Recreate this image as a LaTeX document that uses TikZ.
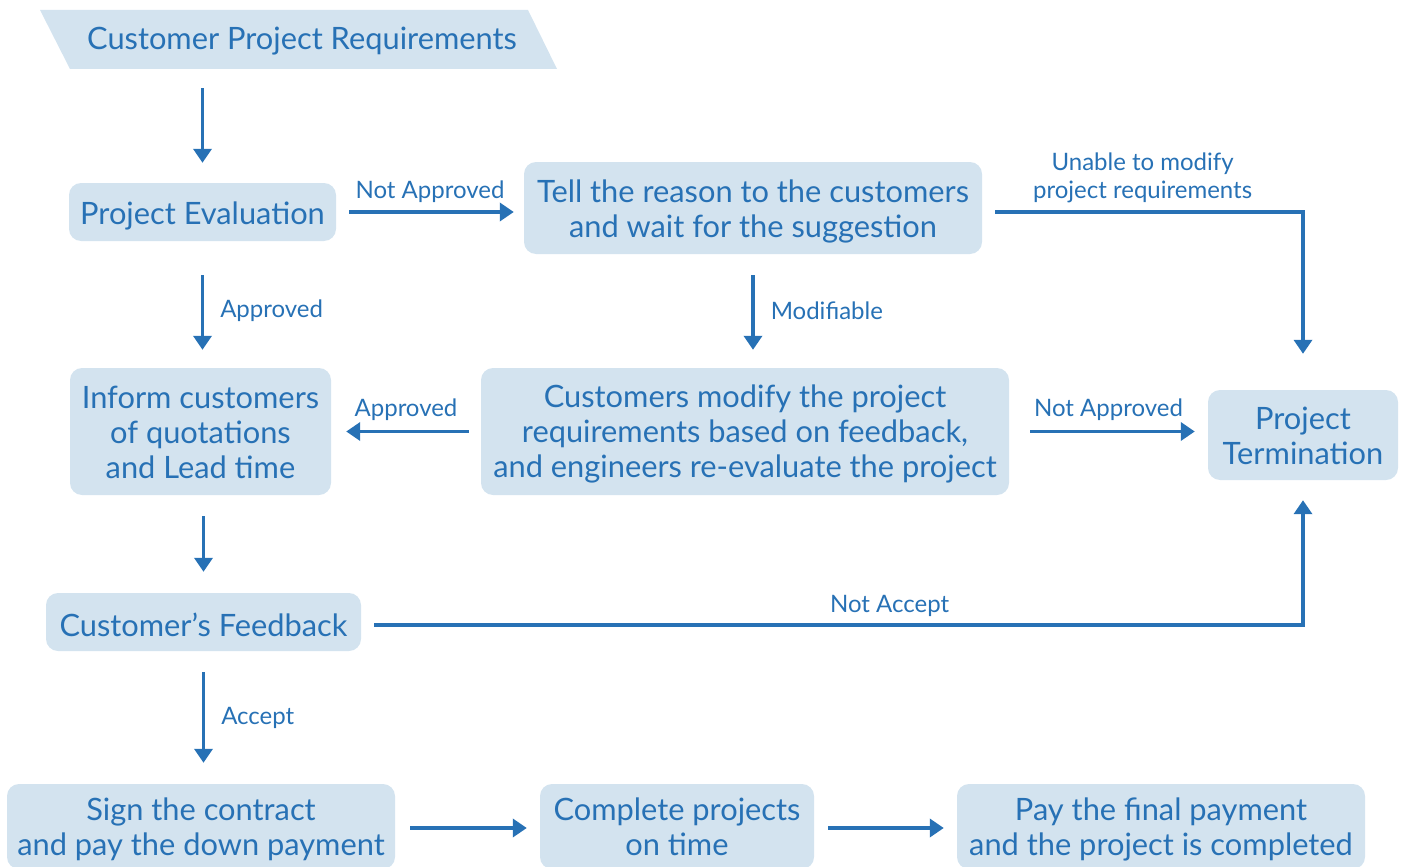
\documentclass[tikz,border=0pt]{standalone}
\usepackage{fontspec}
\setmainfont{Lato}
\usetikzlibrary{arrows.meta}
\definecolor{boxfill}{HTML}{D3E3EF}
\definecolor{ink}{HTML}{2771B5}
\newcommand{\mainsz}{\fontsize{30.8pt}{35pt}\selectfont}
\newcommand{\lblsz}{\fontsize{24pt}{28pt}\selectfont}
\tikzset{
  box/.style={fill=boxfill, rounded corners=12pt, inner sep=0pt},
  boxtxt/.style={text=ink, align=center, font=\mainsz, inner sep=0pt},
  arr/.style={draw=ink, line width=3.5pt, -{Triangle[length=14pt,width=18pt]}},
  lbl/.style={text=ink, font=\lblsz, align=center, inner sep=2pt},
}
\begin{document}
\begin{tikzpicture}[x=1pt,y=-1pt]
\clip (0,0) rectangle (1406,867);
\useasboundingbox (0,0) rectangle (1406,867);

% requirement banner
\fill[boxfill] (40,10) -- (528,10) -- (557,69) -- (70,69) -- cycle;
\node[minimum height=59pt, inner sep=0pt,
  label={[boxtxt, yshift=-2pt]center:{Customer Project Requirements}}] (cpr) at (302,39.5) {};

% process boxes
\node[box, minimum width=267pt, minimum height=58pt,
  label={[boxtxt, yshift=-4pt]center:{Project Evaluation}}] (pe) at (202.5,212) {};
\node[box, minimum width=458pt, minimum height=92pt,
  label={[boxtxt, yshift=-3pt]center:{Tell the reason to the customers\\and wait for the suggestion}}] (tell) at (753,208) {};
\node[box, minimum width=261pt, minimum height=127pt,
  label={[boxtxt, yshift=-0.5pt]center:{Inform customers\\of quotations\\and Lead time}}] (inf) at (200.5,431.5) {};
\node[box, minimum width=528pt, minimum height=127pt,
  label={[boxtxt, yshift=-2.5pt]center:{Customers modify the project\\requirements based on feedback,\\and engineers re-evaluate the project}}] (mod) at (745,431.5) {};
\node[box, minimum width=190pt, minimum height=90pt,
  label={[boxtxt, yshift=-0.5pt]center:{Project\\Termination}}] (term) at (1303,435) {};
\node[box, minimum width=315pt, minimum height=58pt,
  label={[boxtxt, yshift=-3pt]center:{Customer’s Feedback}}] (fb) at (203.5,622) {};
\node[box, minimum width=388pt, minimum height=85pt,
  label={[boxtxt, yshift=-3pt]center:{Sign the contract\\and pay the down payment}}] (sign) at (201,826.5) {};
\node[box, minimum width=274pt, minimum height=85pt,
  label={[boxtxt]center:{Complete projects\\on time}}] (comp) at (677,826.5) {};
\node[box, minimum width=408pt, minimum height=85pt,
  label={[boxtxt, yshift=-3pt]center:{Pay the final payment\\and the project is completed}}] (pay) at (1161,826.5) {};

% connectors
\draw[arr, shorten <=19pt, shorten >=20pt] (cpr.south -| pe.north) -- (pe.north);
\draw[arr, shorten <=13pt, shorten >=10pt] (pe.east) -- node[lbl, above=6pt] {Not Approved} (pe.east -| tell.west);
\draw[arr, shorten <=13pt, shorten >=36pt] (tell.east |- pe.east) -- node[lbl, above=10pt, text depth=0pt] {Unable to modify\\project requirements} (pe.east -| term.north) -- (term.north);
\draw[arr, shorten <=34pt, shorten >=18pt] (pe.south) -- node[lbl, right=14pt, pos=0.55] {Approved} (pe.south |- inf.north);
\draw[arr, shorten <=21pt, shorten >=18pt] (tell.south) -- node[lbl, right=14pt] {Modifiable} (tell.south |- mod.north);
\draw[arr, shorten <=12pt, shorten >=15pt] (mod.west) -- node[lbl, above=7pt] {Approved} (mod.west -| inf.east);
\draw[arr, shorten <=21pt, shorten >=13pt] (mod.east) -- node[lbl, above=7pt] {Not Approved} (mod.east -| term.west);
\draw[arr, shorten <=21pt, shorten >=21pt] (fb.north |- inf.south) -- (fb.north);
\draw[arr, shorten <=13pt, shorten >=20pt] ([yshift=-3pt]fb.east) -- node[lbl, above=5pt, pos=0.561] {Not Accept} ([yshift=-3pt]fb.east -| term.south) -- (term.south);
\draw[arr, shorten <=21pt, shorten >=21pt] (fb.south) -- node[lbl, right=14pt] {Accept} (fb.south |- sign.north);
\draw[arr, shorten <=15pt, shorten >=13pt] ([yshift=-1.5pt]sign.east) -- ([yshift=-1.5pt]sign.east -| comp.west);
\draw[arr, shorten <=14pt, shorten >=13pt] ([yshift=-1.5pt]comp.east) -- ([yshift=-1.5pt]comp.east -| pay.west);
\end{tikzpicture}
\end{document}
